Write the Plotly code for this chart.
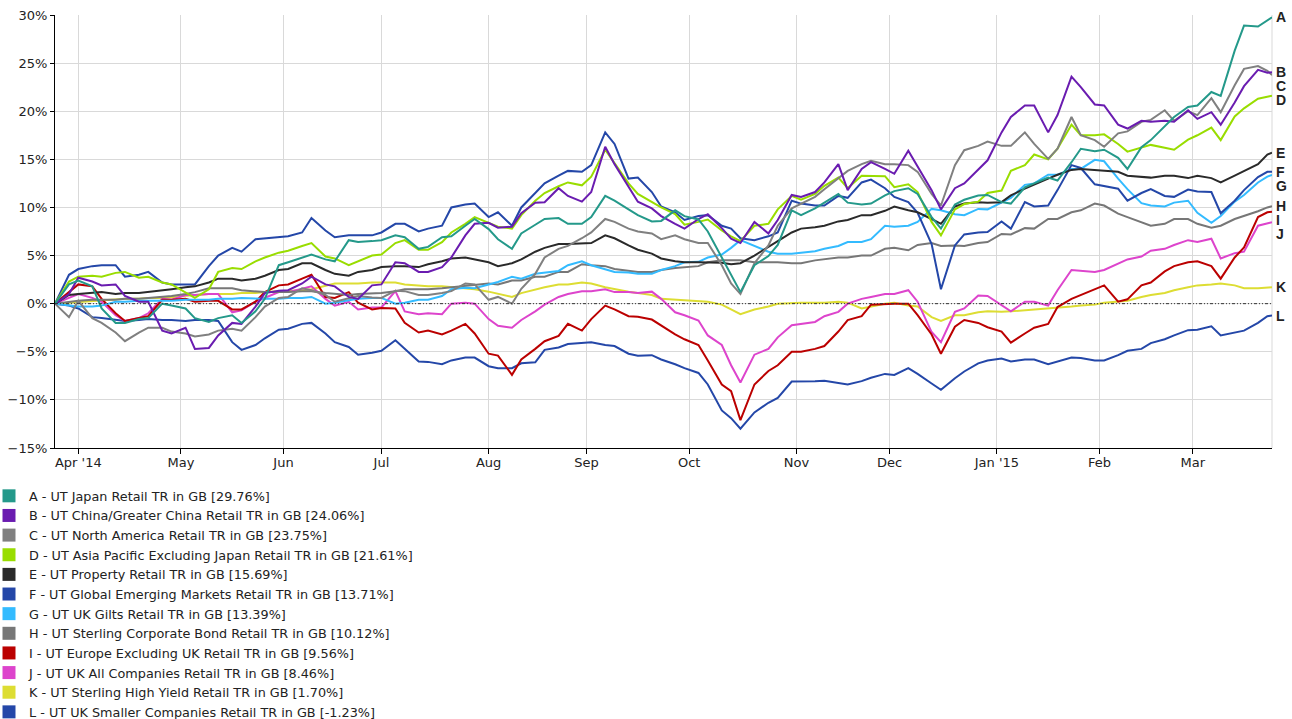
import plotly.graph_objects as go

dates = ["2014-03-25","2014-03-28","2014-04-01","2014-04-04","2014-04-08","2014-04-11","2014-04-15","2014-04-18","2014-04-22","2014-04-25","2014-04-29","2014-05-02","2014-05-06","2014-05-09","2014-05-13","2014-05-16","2014-05-20","2014-05-23",
         "2014-05-27","2014-05-30","2014-06-03","2014-06-06","2014-06-10","2014-06-13","2014-06-17","2014-06-20","2014-06-24","2014-06-27","2014-07-01","2014-07-04","2014-07-08","2014-07-11","2014-07-15","2014-07-18",
         "2014-07-22","2014-07-25","2014-07-29","2014-08-01","2014-08-05","2014-08-08","2014-08-12","2014-08-15","2014-08-19","2014-08-22","2014-08-26","2014-08-29","2014-09-02","2014-09-05","2014-09-09","2014-09-12","2014-09-16","2014-09-19",
         "2014-09-23","2014-09-26","2014-09-30","2014-10-03","2014-10-07","2014-10-10","2014-10-14","2014-10-16","2014-10-21","2014-10-24","2014-10-28","2014-10-31","2014-11-04","2014-11-07","2014-11-11","2014-11-14","2014-11-18","2014-11-21",
         "2014-11-25","2014-11-28","2014-12-02","2014-12-05","2014-12-09","2014-12-12","2014-12-16","2014-12-19","2014-12-23","2014-12-26","2014-12-30","2015-01-02","2015-01-06","2015-01-09","2015-01-13","2015-01-16","2015-01-20","2015-01-23",
         "2015-01-27","2015-01-30","2015-02-03","2015-02-06","2015-02-10","2015-02-13","2015-02-17","2015-02-20","2015-02-24","2015-02-27","2015-03-03","2015-03-06","2015-03-10","2015-03-13","2015-03-17","2015-03-20","2015-03-24","2015-03-25"]

A = [0, 2.0, 2.4, 1.8, -0.5, -2.0, -2.0, -1.6, -1.5, 0.0, -0.2, -0.5, -1.5, -1.9, -1.5, -1.2, -2.0, -0.8,
     0.5, 4.0, 4.3, 4.8, 5.1, 4.6, 4.4, 6.6, 6.4, 6.5, 6.6, 7.1, 6.9, 5.7, 5.9, 6.9,
     7.0, 8.1, 8.8, 7.75, 6.7, 5.7, 7.3, 8.2, 8.8, 8.9, 8.3, 8.3, 9.0, 11.2, 10.7, 9.8, 9.2, 8.55,
     8.6, 9.7, 9.1, 8.75, 7.5, 4.8, 3.0, 1.2, 4.0, 4.95, 6.1, 9.7, 9.2, 9.9, 10.5, 11.4, 10.5, 10.3,
     10.4, 11.25, 11.7, 12.0, 11.4, 9.0, 7.8, 10.3, 10.8, 11.25, 11.3, 10.55, 10.4, 12.1, 12.5, 13.1, 12.8, 14.7,
     16.1, 15.85, 16.0, 15.15, 14.0, 16.25, 17.0, 18.5, 19.4, 20.45, 20.6, 22.0, 21.6, 26.3, 28.9, 28.8, 29.5, 29.76]
B = [0, 1.0, 2.7, 2.3, 1.9, 2.0, 0.8, 0.2, 0.2, -2.8, -3.1, -2.5, -4.7, -4.6, -3.3, -2.0, -2.1, -0.3,
     1.1, 1.35, 1.4, 2.1, 2.8, 2.0, 1.8, 0.7, 0.5, 1.9, 2.0, 4.3, 4.2, 3.3, 3.3, 3.8,
     4.8, 7.1, 8.3, 8.4, 7.9, 8.0, 9.4, 10.5, 10.55, 12.0, 11.2, 10.6, 11.6, 16.3, 14.5, 12.1, 10.6, 9.9,
     9.1, 8.3, 7.8, 8.8, 9.3, 7.85, 6.75, 6.3, 8.5, 7.3, 8.7, 11.3, 11.1, 11.6, 12.6, 14.5, 11.8, 14.0,
     14.7, 14.0, 13.5, 15.9, 14.2, 11.8, 9.8, 12.0, 12.5, 14.0, 14.9, 17.8, 19.4, 20.6, 20.6, 17.8, 19.6, 23.6,
     22.5, 20.7, 20.6, 18.6, 18.2, 19.0, 18.9, 19.0, 18.9, 20.1, 19.2, 19.9, 18.6, 20.9, 22.6, 24.3, 24.0, 24.06]
C = [0, -1.4, 0.3, -1.5, -2.0, -3.0, -3.9, -3.0, -2.5, -2.5, -2.9, -3.1, -3.4, -3.2, -2.8, -2.6, -2.8, -1.4,
     -0.3, 0.6, 0.7, 1.6, 1.4, 0.9, 0.2, 0.55, 0.8, 0.65, 0.6, 1.35, 1.3, 0.9, 0.9, 1.1,
     1.3, 2.1, 2.0, 0.4, 0.7, 0.0, 1.55, 3.1, 4.8, 5.7, 6.0, 6.8, 7.4, 8.8, 8.5, 7.8, 7.5, 7.3,
     6.7, 7.1, 6.7, 6.3, 6.3, 4.0, 2.1, 1.0, 4.2, 6.05, 8.1, 9.9, 10.4, 11.1, 11.9, 13.1, 13.8, 14.5,
     14.85, 14.5, 14.5, 14.4, 13.7, 11.4, 10.2, 14.4, 15.95, 16.4, 16.85, 16.4, 16.4, 17.8, 16.6, 15.05, 16.1, 19.4,
     17.5, 17.0, 16.3, 17.7, 17.9, 18.9, 19.1, 20.1, 19.0, 20.0, 19.6, 21.35, 19.9, 22.7, 24.4, 24.7, 24.2, 23.75]
D = [0, 2.3, 2.8, 2.9, 2.8, 3.2, 3.3, 2.7, 2.8, 2.2, 2.0, 1.2, 0.6, 1.5, 3.3, 3.7, 3.6, 4.4,
     4.8, 5.3, 5.5, 6.0, 6.3, 4.9, 4.7, 4.0, 4.4, 5.0, 5.1, 6.3, 6.6, 5.6, 5.6, 6.4,
     7.4, 8.3, 9.0, 8.4, 8.0, 7.8, 9.2, 10.7, 11.5, 12.2, 12.6, 12.3, 13.2, 16.0, 14.6, 12.5, 11.4, 10.6,
     10.0, 9.3, 8.2, 8.5, 8.75, 7.6, 7.0, 6.5, 8.1, 8.3, 9.8, 11.2, 10.8, 11.4, 12.25, 13.1, 12.0, 13.3,
     13.3, 13.25, 12.1, 12.4, 11.6, 8.5, 7.1, 9.8, 10.35, 10.6, 11.5, 11.75, 13.8, 14.4, 15.5, 15.0, 16.1, 18.6,
     17.5, 17.5, 17.6, 16.6, 15.8, 16.2, 16.5, 16.2, 16.0, 17.05, 17.5, 18.3, 17.0, 19.45, 20.3, 21.3, 21.5, 21.61]
E = [0, 0.9, 1.0, 1.1, 1.2, 1.0, 1.1, 1.1, 1.2, 1.4, 1.5, 1.7, 1.8, 2.2, 2.6, 2.6, 2.4, 2.6,
     2.9, 3.5, 3.6, 4.2, 4.2, 3.5, 3.1, 2.9, 3.3, 3.5, 3.8, 3.9, 3.9, 3.8, 4.1, 4.4,
     4.7, 4.8, 4.6, 4.3, 3.9, 4.2, 4.6, 5.4, 5.8, 6.2, 6.2, 6.25, 6.3, 7.1, 6.8, 6.05, 5.6, 5.2,
     4.7, 4.4, 4.3, 4.3, 4.3, 4.25, 4.1, 4.2, 5.0, 5.95, 6.5, 7.4, 7.8, 7.95, 8.1, 8.55, 8.7, 9.2,
     9.2, 9.65, 10.1, 9.7, 9.5, 8.8, 8.3, 10.1, 10.4, 10.55, 10.5, 10.55, 11.25, 11.95, 12.4, 13.0, 13.4, 13.9,
     14.0, 13.9, 13.8, 13.7, 13.3, 13.15, 13.1, 13.3, 13.3, 13.05, 13.3, 13.05, 12.6, 13.3, 13.8, 14.5, 15.5, 15.69]
F = [0, 3.0, 3.6, 3.9, 4.0, 4.0, 2.8, 3.0, 3.3, 2.2, 2.0, 2.0, 2.0, 3.9, 5.0, 5.8, 5.4, 6.7,
     6.8, 6.9, 7.0, 7.4, 8.9, 7.6, 6.9, 7.1, 7.1, 7.1, 7.4, 8.3, 8.3, 7.5, 7.8, 8.1,
     10.0, 10.3, 10.4, 9.0, 9.5, 8.1, 10.0, 11.5, 12.5, 13.3, 13.8, 13.7, 14.4, 17.8, 16.6, 13.0, 13.1, 11.6,
     10.1, 9.5, 8.7, 9.1, 9.2, 8.1, 7.8, 6.8, 6.6, 7.0, 7.4, 10.7, 10.4, 10.2, 10.2, 11.2, 11.0, 12.6,
     12.9, 12.0, 11.1, 10.55, 9.45, 6.2, 1.5, 6.05, 7.2, 7.4, 7.45, 8.55, 7.8, 10.55, 10.1, 10.2, 11.8, 14.4,
     14.1, 12.4, 12.2, 11.95, 10.7, 11.5, 11.9, 11.2, 11.1, 11.85, 11.65, 11.6, 9.4, 10.7, 11.8, 13.15, 13.7, 13.71]
G = [0, -0.2, -0.3, -0.3, -0.2, 0.2, 0.2, 0.3, 0.3, 0.3, 0.3, 0.4, 0.4, 0.4, 0.5, 0.5, 0.6, 0.5,
     0.5, 0.5, 0.6, 0.6, 0.7, 0.0, 0.1, 0.35, 0.5, 0.6, 0.6, 0.0, 0.1, 0.4, 0.4, 0.8,
     1.5, 1.65, 1.6, 2.0, 2.25, 2.8, 2.6, 3.1, 3.2, 3.4, 4.0, 4.4, 4.0, 3.6, 3.3, 3.25, 3.1, 3.1,
     3.5, 3.9, 4.3, 4.35, 4.8, 5.1, 5.8, 6.6, 6.0, 5.4, 5.2, 5.2, 5.3, 5.45, 5.7, 6.0, 6.4, 6.4,
     6.7, 8.1, 8.0, 8.1, 8.5, 9.85, 9.7, 9.3, 9.2, 9.85, 9.8, 10.55, 11.0, 12.35, 12.5, 13.4, 13.4, 14.0,
     14.0, 14.95, 14.8, 13.0, 11.9, 10.45, 10.2, 10.1, 10.5, 10.7, 9.45, 8.4, 9.1, 10.6, 11.3, 12.6, 13.2, 13.39]
H = [0, 0.2, 0.3, 0.4, 0.4, 0.4, 0.5, 0.5, 0.6, 0.7, 0.8, 1.0, 1.2, 1.6, 1.6, 1.6, 1.4, 1.3,
     1.2, 1.2, 1.2, 1.3, 1.3, 1.1, 1.0, 0.9, 1.0, 1.1, 1.1, 1.3, 1.5, 1.5, 1.5, 1.6,
     1.7, 1.8, 1.9, 2.1, 2.0, 2.4, 2.4, 2.8, 2.8, 3.3, 3.3, 4.1, 4.0, 3.9, 3.6, 3.4, 3.3, 3.3,
     3.5, 3.7, 3.8, 3.9, 4.3, 4.5, 4.5, 4.5, 4.3, 4.3, 4.3, 4.2, 4.2, 4.5, 4.6, 4.8, 4.8, 5.0,
     5.0, 5.7, 5.8, 5.55, 6.1, 6.3, 6.0, 6.05, 6.0, 6.3, 6.4, 7.25, 7.2, 7.85, 7.8, 8.8, 8.8, 9.5,
     9.7, 10.4, 10.2, 9.35, 9.0, 8.5, 8.1, 8.3, 8.8, 8.8, 8.3, 7.9, 8.1, 8.8, 9.1, 9.6, 10.0, 10.12]
I = [0, 1.2, 2.0, 1.8, 0.5, -1.0, -1.8, -1.5, -1.3, 0.4, 0.4, 0.5, 0.2, 0.3, 0.3, -0.6, -0.6, 0.2,
     1.2, 1.9, 2.0, 2.6, 3.0, 0.7, 0.6, 1.2, 0.1, -0.6, -0.45, -0.5, -2.0, -3.0, -2.8, -3.2,
     -2.8, -2.1, -3.1, -5.2, -5.4, -7.4, -5.8, -4.7, -3.9, -3.35, -2.1, -2.8, -1.6, -0.2, -0.6, -1.3, -1.35, -1.65,
     -2.3, -3.2, -3.7, -4.3, -5.9, -8.4, -9.1, -12.1, -8.4, -7.0, -6.4, -5.0, -5.0, -4.7, -4.4, -2.9, -1.7, -1.3,
     -0.1, 0.0, 0.0, 0.0, -1.2, -3.2, -5.2, -2.4, -1.7, -2.0, -2.45, -2.9, -4.05, -3.1, -2.5, -2.1, -0.35, 0.5,
     0.9, 1.5, 1.9, 0.2, 0.45, 1.9, 2.2, 3.35, 3.9, 4.3, 4.4, 3.9, 2.6, 4.8, 5.85, 9.0, 9.5, 9.56]
J = [0, 0.6, 1.0, 0.6, 0.2, -1.2, -1.8, -1.5, -1.0, 0.5, 0.4, 0.9, 0.9, 1.0, 1.0, -0.9, -0.7, 0.2,
     0.6, 1.2, 1.2, 1.55, 1.8, 0.5, -0.2, 0.2, -0.6, -0.4, -0.4, 1.3, -0.8, -1.1, -1.0, -1.1,
     0.0, 0.1, 0.0, -1.6, -2.3, -2.5, -1.7, -0.8, -0.1, 0.7, 1.0, 1.3, 1.3, 1.5, 1.2, 1.2, 1.1, 1.25,
     0.5, -0.9, -1.2, -1.75, -3.3, -4.3, -6.4, -8.2, -5.3, -4.7, -3.5, -2.25, -2.1, -1.9, -1.3, -0.85, 0.0, 0.5,
     0.7, 1.0, 1.0, 1.4, 0.2, -2.95, -4.0, -0.85, -0.5, 0.85, 0.8, -0.2, -0.8, 0.2, 0.2, -0.2, 1.4, 3.5,
     3.4, 3.3, 3.5, 4.2, 4.6, 4.9, 5.5, 5.7, 6.1, 6.6, 6.4, 6.75, 4.7, 5.25, 5.4, 8.1, 8.3, 8.46]
K = [0, 0.1, 0.2, 0.3, 0.4, 0.5, 0.5, 0.5, 0.6, 0.6, 0.7, 0.8, 0.9, 1.0, 1.0, 1.0, 1.1, 1.1,
     1.2, 1.25, 1.3, 1.4, 1.5, 1.9, 2.1, 2.1, 2.1, 2.2, 2.2, 2.2, 2.0, 1.9, 1.8, 1.8,
     1.7, 1.55, 1.5, 1.25, 1.0, 0.7, 1.1, 1.5, 1.7, 2.0, 2.0, 2.2, 2.1, 1.7, 1.5, 1.25, 1.1, 0.9,
     0.5, 0.4, 0.3, 0.2, 0.2, -0.1, -0.6, -1.1, -0.6, -0.3, 0.0, 0.1, 0.1, 0.1, 0.1, 0.2, 0.1, -0.5,
     -0.3, 0.0, 0.1, -0.2, -0.3, -1.4, -1.8, -1.2, -1.2, -0.9, -0.8, -0.85, -0.8, -0.7, -0.6, -0.5, -0.4, -0.3,
     -0.2, -0.1, 0.1, 0.2, 0.3, 0.7, 0.9, 1.1, 1.4, 1.7, 1.9, 2.0, 2.1, 1.9, 1.6, 1.6, 1.7, 1.70]
L = [0, -0.2, -0.5, -1.4, -1.5, -1.7, -1.8, -1.7, -1.6, -1.7, -1.7, -1.8, -1.7, -1.7, -1.8, -4.0, -4.8, -4.3,
     -3.6, -2.7, -2.6, -2.1, -2.0, -3.1, -4.0, -4.5, -5.3, -5.1, -4.9, -3.8, -4.7, -6.0, -6.05, -6.3,
     -5.9, -5.6, -5.6, -6.5, -6.7, -6.7, -6.2, -6.1, -4.8, -4.55, -4.2, -4.1, -4.0, -4.3, -4.4, -5.2, -5.4, -5.35,
     -5.8, -6.3, -6.7, -7.2, -8.4, -11.1, -11.9, -13.0, -11.3, -10.3, -9.8, -8.1, -8.1, -8.05, -8.0, -8.2, -8.4, -8.05,
     -7.7, -7.3, -7.4, -6.7, -7.3, -8.3, -8.95, -7.75, -7.05, -6.2, -5.9, -5.7, -6.0, -5.8, -5.8, -6.3, -6.0, -5.6,
     -5.65, -5.9, -5.9, -5.35, -4.9, -4.7, -4.1, -3.7, -3.3, -2.75, -2.7, -2.35, -3.3, -3.0, -2.8, -2.0, -1.3, -1.23]

letters = ["A", "B", "C", "D", "E", "F", "G", "H", "I", "J", "K", "L"]
names = ["UT Japan Retail TR in GB", "UT China/Greater China Retail TR in GB", "UT North America Retail TR in GB",
         "UT Asia Pacific Excluding Japan Retail TR in GB", "UT Property Retail TR in GB",
         "UT Global Emerging Markets Retail TR in GB", "UT UK Gilts Retail TR in GB",
         "UT Sterling Corporate Bond Retail TR in GB", "UT Europe Excluding UK Retail TR in GB",
         "UT UK All Companies Retail TR in GB", "UT Sterling High Yield Retail TR in GB",
         "UT UK Smaller Companies Retail TR in GB"]
series = [A, B, C, D, E, F, G, H, I, J, K, L]
colors = ["#24998a", "#6a1cb0", "#808080", "#99dd00", "#2a2a2a", "#2447a8", "#33bbff",
          "#777777", "#bb0000", "#dd44cc", "#dddd33", "#2447a8"]

tick_vals = ["2014-04-01", "2014-05-01", "2014-06-02", "2014-07-01", "2014-08-01", "2014-09-01", "2014-10-01",
             "2014-11-03", "2014-12-01", "2015-01-01", "2015-02-02", "2015-03-02"]
tick_text = ["Apr '14", "May", "Jun", "Jul", "Aug", "Sep", "Oct", "Nov", "Dec", "Jan '15", "Feb", "Mar"]

for s in series:
    assert len(s) == len(dates), (len(s), len(dates))

FONT = "DejaVu Sans"
fig = go.Figure()

# lines (A drawn last = on top)
for i in reversed(range(len(series))):
    fig.add_trace(go.Scatter(x=dates, y=series[i], mode="lines",
                             line=dict(color=colors[i], width=2),
                             showlegend=False, hoverinfo="skip"))

# legend entries
for i in range(len(series)):
    fig.add_trace(go.Scatter(x=[None], y=[None], mode="markers",
                             marker=dict(symbol="square", size=13, color=colors[i]),
                             name=f"{letters[i]} - {names[i]} [{series[i][-1]:.2f}%]",
                             showlegend=True))

# end labels with simple collision avoidance
order = sorted(range(len(series)), key=lambda k: -series[k][-1])
min_gap = 1.45
prev = None
label_y = {}
for k in order:
    y = series[k][-1]
    if prev is not None and y > prev - min_gap:
        y = prev - min_gap
    label_y[k] = y
    prev = y
annotations = []
for k in range(len(series)):
    annotations.append(dict(xref="paper", yref="y", x=1, y=label_y[k], text=f"<b>{letters[k]}</b>",
                            showarrow=False, xanchor="left", yanchor="middle", xshift=2,
                            font=dict(family="Liberation Sans", size=14, color="#222")))

shapes = [
    dict(type="line", xref="paper", yref="y", x0=0, x1=1, y0=0, y1=0,
         line=dict(color="#333333", width=1, dash="3px,2px,1px,2px,1px,2px"), layer="above"),
    dict(type="line", xref="paper", yref="paper", x0=1, x1=1, y0=0, y1=1,
         line=dict(color="#d9d9d9", width=1), layer="below"),
]

fig.update_layout(
    width=1292, height=719,
    margin=dict(l=55, r=20, t=15, b=271, autoexpand=False),
    paper_bgcolor="white", plot_bgcolor="white",
    font=dict(family=FONT, size=13, color="#222"),
    xaxis=dict(type="date", range=[dates[0], dates[-1]],
               rangebreaks=[dict(bounds=["sat", "mon"])],
               tickmode="array", tickvals=tick_vals, ticktext=tick_text,
               showgrid=True, gridcolor="#d9d9d9", gridwidth=1,
               showline=True, linecolor="#000", linewidth=1,
               ticks="outside", ticklen=5, tickcolor="#000", ticklabelstandoff=-3,
               tickfont=dict(family=FONT, size=13, color="#222"), zeroline=False),
    yaxis=dict(range=[-15, 30], tick0=0, dtick=5, ticksuffix="%",
               showgrid=True, gridcolor="#d9d9d9", gridwidth=1,
               showline=True, linecolor="#000", linewidth=1,
               ticks="outside", ticklen=4, tickcolor="#000",
               tickfont=dict(family=FONT, size=13, color="#222"), zeroline=False),
    legend=dict(x=-66/1217, xanchor="left", y=-(481-448)/433, yanchor="top",
                bgcolor="rgba(0,0,0,0)", borderwidth=0, traceorder="normal",
                font=dict(family=FONT, size=12.8, color="#222"), itemclick=False),
    annotations=annotations, shapes=shapes,
)

fig.write_html("out.html", config={"displayModeBar": False},
               post_script="document.body.style.margin='0';")
